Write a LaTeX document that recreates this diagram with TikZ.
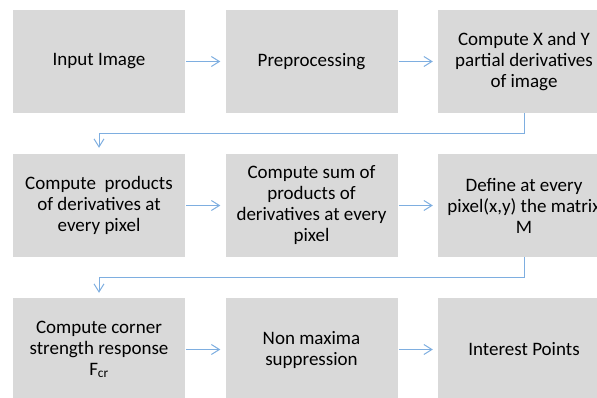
\documentclass[tikz,border=0pt]{standalone}
\usepackage{fontspec}
\setmainfont{Carlito}
\usepackage{xcolor}
\usetikzlibrary{arrows.meta,positioning,calc}

\definecolor{boxgray}{RGB}{217,217,217}
\definecolor{flowblue}{RGB}{126,174,224}

\begin{document}
\begin{tikzpicture}[x=1pt,y=-1pt,
	stepbox/.style={fill=boxgray,minimum width=172pt,minimum height=103pt,
		inner sep=0pt,align=center,font=\fontsize{19}{21}\selectfont},
	flow/.style={draw=flowblue,line width=1pt,-{Straight Barb[length=8pt,width=10pt]}}]
	\useasboundingbox (0,0) rectangle (597,398);
	\clip (0,0) rectangle (597,398);
	
	% first row
	\node[stepbox] (input) at (99,61.5) {Input Image};
	\node[stepbox] (prep) at (311.5,61.5) {Preprocessing};
	\node[stepbox] (deriv) at (524,61.5) {Compute X and Y\\partial derivatives\\of image};
	
	% second row
	\node[stepbox] (prod) at (99,205.5) {Compute\ \ products\\of derivatives at\\every pixel};
	\node[stepbox] (sum) at (311.5,205.5) {Compute sum of\\products of\\derivatives at every\\pixel};
	\node[stepbox] (matrix) at (524,205.5) {Define at every\\pixel(x,y) the matrix\\M};
	
	% third row
	\node[stepbox] (corner) at (99,349.5) {Compute corner\\strength response\\F\textsubscript{cr}};
	\node[stepbox] (nms) at (311.5,349.5) {Non maxima\\suppression};
	\node[stepbox] (points) at (524,349.5) {Interest Points};
	
	\draw[flow,shorten <=1pt,shorten >=5pt] (input) -- (prep);
	\draw[flow,shorten <=1pt,shorten >=5pt] (prep) -- (deriv);
	\draw[flow,shorten <=1pt,shorten >=5pt] (prod) -- (sum);
	\draw[flow,shorten <=1pt,shorten >=5pt] (sum) -- (matrix);
	\draw[flow,shorten <=1pt,shorten >=5pt] (corner) -- (nms);
	\draw[flow,shorten <=1pt,shorten >=5pt] (nms) -- (points);
	
	\draw[flow,shorten >=6pt] (deriv.south) -- ++(0,20) -| (prod.north);
	\draw[flow,shorten >=5pt] (matrix.south) -- ++(0,20) -| (corner.north);
\end{tikzpicture}
\end{document}
